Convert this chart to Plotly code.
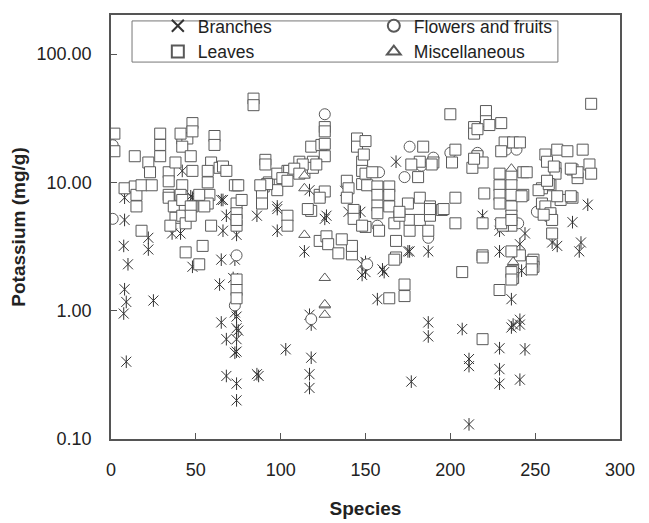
import plotly.graph_objects as go

# ---------------- data ----------------
branches_x = [8, 8, 7.5, 10, 8, 9, 7.5, 9, 22, 22, 25, 36, 41, 42, 48, 48, 47, 65, 66, 68, 66, 74, 65, 73,
              64, 72, 65, 68, 68, 73, 74, 74, 74, 74, 73, 75, 74, 74, 86, 86, 87, 98, 98, 98, 103, 114,
              117, 117, 118, 118, 117, 117, 126, 127, 138, 140, 147, 148, 148, 150, 150, 160, 161, 157,
              168, 175, 176, 177, 187, 187, 187, 207, 211, 211, 211, 219, 229, 229, 229, 229, 229, 229,
              236, 237, 241, 241, 242, 244, 241, 244, 260, 263, 272, 277, 276, 281, 236, 241]
branches_y = [7.6, 5.1, 3.2, 2.3, 1.47, 1.17, 0.95, 0.40, 3.7, 3.0, 1.2, 4.0, 4.0, 12.3, 7.6, 2.2, 7.8, 7.3, 7.3,
              5.5, 4.2, 3.9, 2.5, 2.5, 1.6, 1.8, 0.81, 0.6, 0.31, 0.97, 0.9, 0.73, 0.6, 0.48, 0.47, 0.7,
              0.27, 0.2, 5.5, 0.32, 0.31, 6.5, 4.2, 6.2, 0.5, 2.9, 8.7, 0.93, 0.78, 0.43, 0.32, 0.25, 5.2,
              5.5, 8.6, 5.9, 5.9, 2.3, 1.9, 2.4, 2.0, 2.1, 2.0, 1.23, 14.5, 2.9, 2.9, 0.28, 2.9, 0.81,
              0.63, 0.72, 0.42, 0.37, 0.13, 5.5, 4.2, 4.7, 2.9, 0.51, 0.35, 0.27, 1.23, 0.78, 0.85, 0.78,
              2.05, 0.5, 0.29, 4.0, 3.4, 3.2, 4.9, 3.4, 2.9, 6.7, 0.74, 3.3]

flowers_x = [1, 1, 42, 74, 73, 126, 176, 173, 158, 183, 190, 200, 216, 233, 239, 252, 187, 157, 240,
             151, 118, 251]
flowers_y = [19.5, 5.2, 8.3, 2.7, 1.1, 34, 19, 11, 12, 13.5, 15.6, 17, 17, 18, 18, 6.0, 3.7, 4.6, 4.8,
             2.3, 0.86, 5.9]

leaves_x = [2, 2, 14, 8, 14, 15, 15, 18, 22, 23, 18, 24, 29, 29, 29, 34, 34, 38, 34, 34, 37, 38, 42, 41,
            42, 48, 45, 48, 41, 42, 47, 48, 42, 42, 48, 47, 44, 54, 52, 57, 58, 57, 59, 59, 61, 61, 64,
            66, 68, 57, 74, 73, 74, 74, 74, 74, 77, 52, 55, 35, 44, 47, 84, 84, 91, 91, 90, 89, 89, 93,
            98, 98, 104, 104, 104, 105, 111, 114, 118, 119, 124, 126, 126, 126, 123, 118, 123, 114, 119,
            113, 121, 101, 104, 108, 111, 92, 88, 89, 75, 126, 123, 116, 126, 139, 140, 139, 145, 145,
            148, 148, 148, 143, 150, 149, 150, 154, 151, 157, 157, 157, 157, 164, 164, 164, 158, 167,
            168, 175, 182, 176, 182, 188, 188, 195, 203, 203, 184, 190, 182, 177, 181, 189, 200, 221,
            221, 214, 214, 216, 223, 230, 203, 216, 219, 213, 201, 214, 232, 237, 241, 230, 229, 229,
            229, 229, 236, 236, 236, 236, 236, 236, 243, 243, 242, 220, 231, 256, 257, 263, 269, 278,
            262, 262, 259, 272, 275, 282, 283, 283, 254, 259, 260, 272, 265, 254, 275, 271, 252, 256,
            259, 258, 257, 245, 176, 170, 187, 142, 142, 136, 127, 128, 134, 168, 219, 241, 249, 207,
            173, 173, 164, 219, 229, 237, 237, 249, 167, 150, 219, 219, 230, 236, 260, 255, 236, 248,
            248, 236, 236, 74, 74, 74, 143, 148, 170, 188, 196, 261, 271, 263]
leaves_y = [24, 17.5, 16, 9, 9.3, 8, 6.5, 4.2, 14.3, 12, 9.5, 9.5, 24, 19.6, 16, 12, 10.2, 14.3, 8, 7.6,
            6.5, 5.3, 9.5, 8, 22, 29, 22, 25, 24, 19, 16, 12.3, 7.3, 5.5, 6.5, 6.5, 2.85, 3.2, 2.3, 10,
            8, 6.85, 4.6, 14.3, 23, 19.6, 13, 13.3, 12.3, 12.3, 9.5, 9.5, 6.85, 5.75, 4.6, 5.1, 7.3, 8,
            6.5, 4.6, 4.8, 5.5, 45, 40, 15, 13.8, 9.3, 7.3, 8.2, 10, 11.7, 8.7, 12.3, 5.5, 4.6, 12.3,
            14.5, 13, 19, 14.5, 19.6, 27, 25, 16, 8, 6, 3.5, 12, 13, 13.8, 13.8, 10.8, 10.3, 12.8,
            11.7, 9.7, 9.5, 6.85, 9.5, 8.5, 7.6, 6.2, 20, 10.3, 9, 7.6, 22, 19, 14.5, 12.3, 9.7, 6.1,
            21, 16.5, 11.7, 12, 9.5, 9.3, 8, 6.6, 5.75, 9.3, 8, 6.5, 4.2, 4.8, 3.5, 6.85, 7.6, 5.1,
            5.1, 5.5, 6.5, 6.1, 7.6, 4.8, 19, 14.3, 14.5, 13.8, 11, 13.8, 34, 36, 30, 27, 24, 26, 28,
            29, 18, 16, 14.3, 13, 14.3, 15.3, 20.5, 20.5, 20.5, 17.5, 11.7, 9.5, 8, 6.85, 11.3, 9.5, 8,
            6.5, 5.5, 4.6, 12, 8, 7.8, 8.2, 4.6, 16.5, 14.5, 18, 17.5, 18, 13, 11.7, 9.5, 12.6, 10.8,
            13.8, 11.7, 41, 6.85, 5.5, 4.0, 7.6, 7.3, 9, 12, 7.8, 8.7, 6.5, 5.75, 9.7, 10.3, 12, 4.2,
            5.5, 4.2, 2.75, 3.2, 3.6, 3.8, 3.3, 2.8, 2.6, 2.7, 2.7, 2.5, 2.0, 1.6, 1.3, 1.25, 0.6,
            1.45, 2.05, 1.8, 2.2, 2.5, 4.5, 4.8, 2.6, 4.8, 5.1, 5.1, 5.6, 2.9, 2.4, 2.1, 2.0, 1.75,
            1.75, 1.45, 1.25, 5.2, 4.6, 5.9, 6.2, 6.2, 13.3, 12.8, 7.8]

misc_x = [114, 114, 114, 126, 126, 126, 126, 236, 237]
misc_y = [11.3, 9.0, 3.9, 1.8, 1.1, 1.12, 0.93, 12.8, 2.4]

x_ticks = [0, 50, 100, 150, 200, 250, 300]
y_ticks = [0.1, 1, 10, 100]
y_tick_labels = ["0.10", "1.00", "10.00", "100.00"]

# ---------------- figure ----------------
FONT = "Liberation Sans, Arial, sans-serif"
AST = "#333333"
GRY = "#595959"

fig = go.Figure()
fig.add_trace(go.Scatter(x=branches_x, y=branches_y, mode="markers", name="Branches",
                         legendgroup="br",
                         marker=dict(symbol="x-thin-open", size=10, color=AST,
                                     line=dict(width=1, color=AST))))
fig.add_trace(go.Scatter(x=branches_x, y=branches_y, mode="markers", name="Branches",
                         legendgroup="br", showlegend=False,
                         marker=dict(symbol="line-ns-open", size=9, color=AST,
                                     line=dict(width=1, color=AST))))
fig.add_trace(go.Scatter(x=flowers_x, y=flowers_y, mode="markers", name="Flowers and fruits",
                         marker=dict(symbol="circle", size=11, color="white",
                                     line=dict(width=1, color=GRY))))
fig.add_trace(go.Scatter(x=leaves_x, y=leaves_y, mode="markers", name="Leaves",
                         marker=dict(symbol="square", size=11, color="white",
                                     line=dict(width=1, color=GRY))))
fig.add_trace(go.Scatter(x=misc_x, y=misc_y, mode="markers", name="Miscellaneous",
                         marker=dict(symbol="triangle-up", size=10, color="white",
                                     line=dict(width=1, color=GRY))))

axis_common = dict(showline=True, linecolor="#555555", linewidth=1.5, mirror=True,
                   showgrid=False, zeroline=False, ticks="inside", ticklen=6,
                   tickcolor="#555555", tickwidth=1,
                   tickfont=dict(family=FONT, size=18, color="#222222"))

fig.update_xaxes(range=[0, 300], tickmode="array", tickvals=x_ticks,
                 ticklabelstandoff=14,
                 title=dict(text="<b>Species</b>", standoff=22,
                            font=dict(family=FONT, size=19, color="#222222")),
                 **axis_common)
fig.update_yaxes(type="log", range=[-1, 2.305], tickmode="array", tickvals=y_ticks,
                 ticktext=y_tick_labels, ticklabelstandoff=14,
                 title=dict(text="<b>Potassium (mg/g)</b>", standoff=6,
                            font=dict(family=FONT, size=19, color="#222222")),
                 **axis_common)

# legend frame (box behind the legend entries)
fig.add_shape(type="rect", xref="paper", yref="paper",
              x0=0.0413, x1=0.878, y0=0.889, y1=0.986,
              line=dict(color="#777777", width=1), fillcolor="white", layer="above")

fig.update_layout(
    width=649, height=523,
    margin=dict(l=111, r=29, t=8, b=84),
    paper_bgcolor="white", plot_bgcolor="white",
    showlegend=True,
    legend=dict(orientation="h", x=0.092, y=1.0167, xanchor="left", yanchor="top",
                entrywidth=171, entrywidthmode="pixels",
                borderwidth=0, bgcolor="rgba(0,0,0,0)",
                font=dict(family=FONT, size=17.5, color="#222222"),
                itemsizing="constant", traceorder="normal"),
)

fig.write_html("out.html", config={"displayModeBar": False},
               post_script="document.body.style.margin='0px';")
